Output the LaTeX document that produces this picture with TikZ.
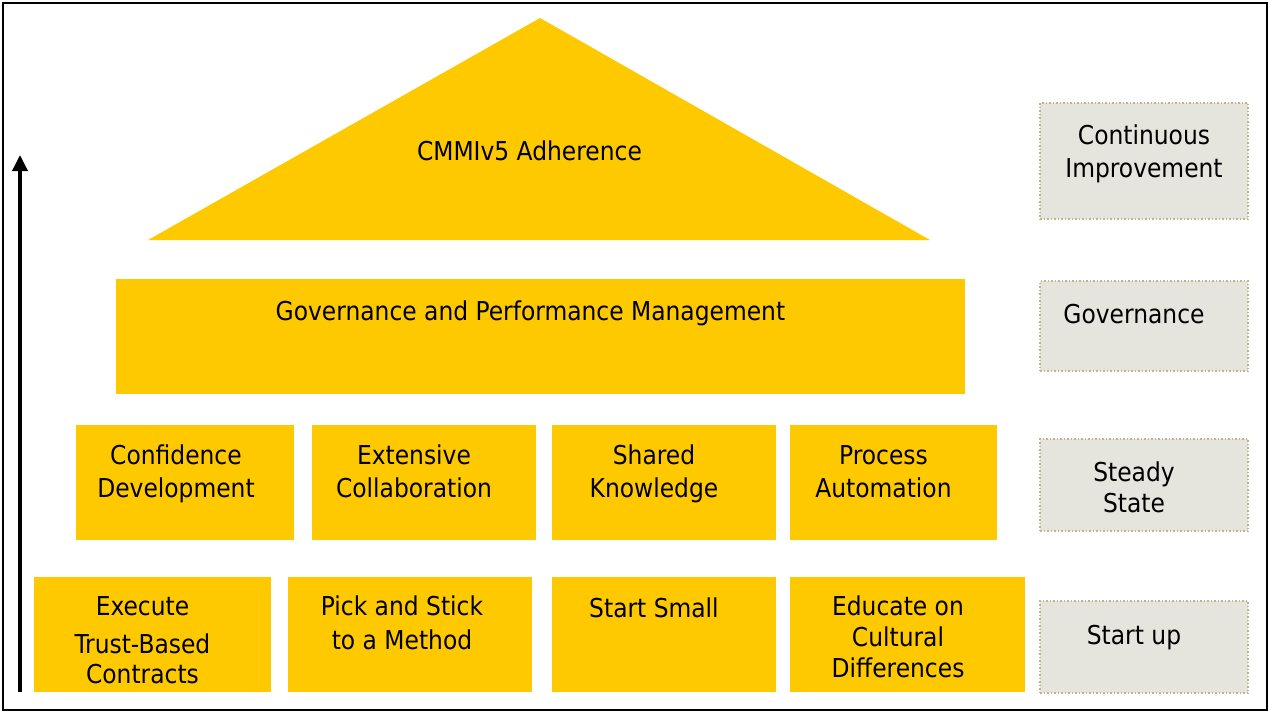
\documentclass[tikz,border=0pt]{standalone}
\usepackage{fontspec}
\setmainfont{DejaVu Sans Condensed}
\usepackage{xcolor}
\usetikzlibrary{arrows.meta, positioning, calc}

\definecolor{pillaryellow}{HTML}{FFC900}
\definecolor{stagegray}{HTML}{E5E5DE}
\definecolor{stageline}{HTML}{BDB58E}

\tikzset{
  pillarbox/.style={
    fill=pillaryellow, minimum height=115pt, inner sep=0pt, outer sep=0pt
  },
  stagebox/.style={
    draw=stageline, dotted, line width=1.5pt, fill=stagegray,
    minimum width=208pt, inner sep=0pt, outer sep=0pt
  },
  % text sits on the baseline of its last line
  boxtext/.style={
    align=center, font=\fontsize{26}{33}\selectfont, inner sep=0pt, anchor=base
  },
  risearrow/.style={
    -{Triangle[width=15pt,length=16pt]}, line width=3.5pt
  },
}

\begin{document}
\begin{tikzpicture}[x=1pt, y=-1pt]
  \useasboundingbox (0,0) rectangle (1269,712);
  \draw[line width=2pt] (2.5,2.5) rectangle (1266.5,709.5);

  % --- Roof ---
  \coordinate (roof-top) at (540,18);
  \coordinate (roof-left) at (148,240);
  \coordinate (roof-right) at (930,240);
  \fill[pillaryellow] (roof-top) -- (roof-left) -- (roof-right) -- cycle;
  \node[boxtext] (roof-text) at (529.5,160.5) {CMMIv5 Adherence};

  % --- Governance beam ---
  \node[pillarbox, minimum width=849pt] (governance) at (540.5,336.5) {};
  \node[boxtext] (governance-text) at ([xshift=-10pt,yshift=-41.5pt]governance.north)
    {Governance and Performance Management};

  % --- Steady state pillars ---
  \node[pillarbox, minimum width=218pt] (confidence) at (185,482.5) {};
  \node[pillarbox, minimum width=224pt] (collaboration) at (424,482.5) {};
  \node[pillarbox, minimum width=224pt] (knowledge) at (664,482.5) {};
  \node[pillarbox, minimum width=207pt] (automation) at (893.5,482.5) {};

  \node[boxtext] (confidence-text) at ([xshift=-9pt,yshift=-72.5pt]confidence.north)
    {Confidence\\Development};
  \node[boxtext] (collaboration-text) at ([xshift=-10pt,yshift=-72.5pt]collaboration.north)
    {Extensive\\Collaboration};
  \node[boxtext] (knowledge-text) at ([xshift=-10pt,yshift=-72.5pt]knowledge.north)
    {Shared\\Knowledge};
  \node[boxtext] (automation-text) at ([xshift=-10pt,yshift=-72.5pt]automation.north)
    {Process\\Automation};

  % --- Start up pillars ---
  \node[pillarbox, minimum width=237pt] (contracts) at (152.5,634.5) {};
  \node[pillarbox, minimum width=244pt] (method) at (410,634.5) {};
  \node[pillarbox, minimum width=224pt] (small) at (664,634.5) {};
  \node[pillarbox, minimum width=235pt] (cultural) at (907.5,634.5) {};

  \node[boxtext, font=\fontsize{26}{30}\selectfont] (contracts-text)
    at ([xshift=-10pt,yshift=-106.5pt]contracts.north)
    {Execute\\[8pt]Trust-Based\\Contracts};
  \node[boxtext, font=\fontsize{26}{34}\selectfont] (method-text)
    at ([xshift=-8pt,yshift=-72.5pt]method.north)
    {Pick and Stick\\to a Method};
  \node[boxtext] (small-text) at ([xshift=-10pt,yshift=-40.5pt]small.north)
    {Start Small};
  \node[boxtext, font=\fontsize{26}{31}\selectfont] (cultural-text)
    at ([xshift=-9.5pt,yshift=-100.5pt]cultural.north)
    {Educate on\\Cultural\\Differences};

  % --- Stage labels ---
  \node[stagebox, minimum height=116pt] (improve) at (1144,161) {};
  \node[stagebox, minimum height=90pt] (govern) at (1144,326) {};
  \node[stagebox, minimum height=92pt] (steady) at (1144,485) {};
  \node[stagebox, minimum height=92pt] (startup) at (1144,647) {};

  \node[boxtext] (improve-text) at ([yshift=-74.5pt]improve.north)
    {Continuous\\Improvement};
  \node[boxtext] (govern-text) at ([xshift=-10pt,yshift=-42.5pt]govern.north)
    {Governance};
  \node[boxtext, font=\fontsize{26}{31}\selectfont] (steady-text)
    at ([xshift=-10pt,yshift=-73.5pt]steady.north) {Steady\\State};
  \node[boxtext] (startup-text) at ([xshift=-10pt,yshift=-43.5pt]startup.north)
    {Start up};

  % --- Maturity arrow ---
  \coordinate (rise-base) at (20,692);
  \coordinate (rise-tip) at (20,155);
  \draw[risearrow] (rise-base) -- (rise-tip);
\end{tikzpicture}
\end{document}
